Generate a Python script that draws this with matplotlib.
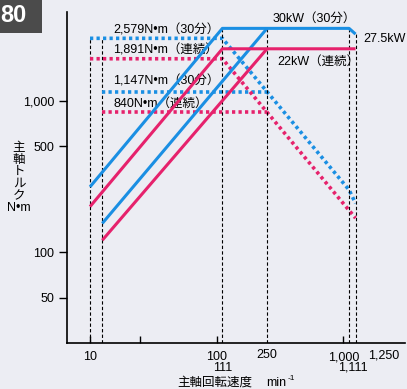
import matplotlib
matplotlib.use('Agg')
import matplotlib.pyplot as plt
from matplotlib.patches import Rectangle
from matplotlib.transforms import blended_transform_factory

plt.rcParams['font.family'] = ['Liberation Sans', 'Noto Sans CJK JP', 'DejaVu Sans']

BLUE = '#1a8fe3'
PINK = '#e6226c'
BG = '#ecedf3'

# torque curves (N·m) vs spindle speed (min^-1)
lo30_speed = [10, 111, 1111, 1250]
lo30_torque = [2579, 2579, 258, 210]
locont_speed = [10, 111, 1111, 1250]
locont_torque = [1891, 1891, 189, 168]
hi30_speed = [12.5, 250]
hi30_torque = [1147, 1147]
hicont_speed = [12.5, 250]
hicont_torque = [840, 840]

# power curves (kW)
lo30p_speed = [10, 111, 1111, 1250]
lo30p_kw = [2.7, 30, 30, 27.5]
hi30p_speed = [12.5, 250]
hi30p_kw = [1.55, 30]
locontp_speed = [10, 111, 1250]
locontp_kw = [2.0, 22, 22]
hicontp_speed = [12.5, 250]
hicontp_kw = [1.2, 22]

# dashed guides
guide_torque_speed = [10, 12.5]
guide_torque_top = [2579, 2579]
guide_power_speed = [111, 250, 1111, 1250]
guide_power_top = [30, 30, 30, 27.5]

yticks = [50, 100, 500, 1000]
ytick_labels = ['50', '100', '500', '1,000']
xticks = [10, 25, 100, 1000]
xtick_labels = ['10', '', '100', '1,000']

fig = plt.figure(figsize=(4.07, 3.89), dpi=100)
fig.patch.set_facecolor(BG)
ax = fig.add_axes([0.1646, 0.1183, 0.8304, 0.8508])
ax.set_facecolor(BG)
ax.set_xscale('log')
ax.set_yscale('log')
ax.set_xlim(6.58, 3070)
ax.set_ylim(25.2, 3846)

ax2 = ax.twinx()
ax2.set_yscale('log')
ax2.set_ylim(0.252, 38.46)
ax2.axis('off')

for s in ['top', 'right']:
    ax.spines[s].set_visible(False)
ax.spines['left'].set_linewidth(1.2)
ax.spines['bottom'].set_linewidth(1.2)

dot = (0, (0.9, 0.9))
dash = dict(color='black', lw=0.8, linestyle=(0, (3, 2)))

for x, top in zip(guide_torque_speed, guide_torque_top):
    ax.plot([x, x], [25.2, top], **dash, zorder=1)
for x, top in zip(guide_power_speed, guide_power_top):
    ax2.plot([x, x], [0.252, top], **dash, zorder=1)

ax.plot(lo30_speed, lo30_torque, color=BLUE, lw=2.6, linestyle=dot, zorder=3)
ax.plot(hi30_speed, hi30_torque, color=BLUE, lw=2.6, linestyle=dot, zorder=3)
ax.plot(locont_speed, locont_torque, color=PINK, lw=2.6, linestyle=dot, zorder=3)
ax.plot(hicont_speed, hicont_torque, color=PINK, lw=2.6, linestyle=dot, zorder=3)

ax2.plot(lo30p_speed, lo30p_kw, color=BLUE, lw=2.2, solid_capstyle='butt', zorder=4)
ax2.plot(hi30p_speed, hi30p_kw, color=BLUE, lw=2.2, solid_capstyle='butt', zorder=4)
ax2.plot(locontp_speed, locontp_kw, color=PINK, lw=2.2, solid_capstyle='butt', zorder=4)
ax2.plot(hicontp_speed, hicontp_kw, color=PINK, lw=2.2, solid_capstyle='butt', zorder=4)

ax.set_yticks(yticks)
ax.set_yticklabels(ytick_labels)
ax.yaxis.set_minor_locator(plt.NullLocator())
ax.tick_params(axis='y', direction='out', length=6, width=1, labelsize=9, pad=3)
ax.set_xticks(xticks)
ax.set_xticklabels(xtick_labels)
ax.xaxis.set_minor_locator(plt.NullLocator())
ax.tick_params(axis='x', direction='in', length=5, width=1, labelsize=9, pad=6)

tr = blended_transform_factory(ax.transData, fig.transFigure)
ax.text(250, 1 - 355 / 389, '250', transform=tr, ha='center', va='center', fontsize=9)
ax.text(2070, 1 - 355 / 389, '1,250', transform=tr, ha='center', va='center', fontsize=9)
ax.text(111, 1 - 368 / 389, '111', transform=tr, ha='center', va='center', fontsize=9)
ax.text(1111 * 1.08, 1 - 368 / 389, '1,111', transform=tr, ha='center', va='center', fontsize=9)

fs = 9
ax.text(15.2, 2900, '2,579N•m（30分）', fontsize=fs, va='center')
ax.text(15.2, 2140, '1,891N•m（連続）', fontsize=fs, va='center')
ax.text(15.2, 1350, '1,147N•m（30分）', fontsize=fs, va='center')
ax.text(15.2, 955, '840N•m（連続）', fontsize=fs, va='center')
ax.text(278, 3480, '30kW（30分）', fontsize=fs, va='center')
ax.text(1430, 2560, '27.5kW', fontsize=fs, va='center')
ax.text(299, 1810, '22kW（連続）', fontsize=fs, va='center')

fig.text(19 / 407, 1 - 178 / 389, '主\n軸\nト\nル\nク\nN•m', ha='center', va='center',
         fontsize=9, linespacing=1.0)
fig.text(177 / 407, 1 - 383 / 389, '主軸回転速度', ha='left', va='center', fontsize=9)
fig.text(266 / 407, 1 - 383 / 389, 'min', ha='left', va='center', fontsize=9)
fig.text(288 / 407, 1 - 378 / 389, '-1', ha='left', va='center', fontsize=6)

fig.patches.append(Rectangle((0, 1 - 33 / 389), 42 / 407, 33 / 389, transform=fig.transFigure,
                             facecolor='#4b4b4b', edgecolor='none'))
fig.text(27 / 407, 1 - 16 / 389, '80', ha='right', va='center', color='white',
         fontsize=17, fontweight='bold')

fig.savefig('out.png', dpi=100, facecolor=BG)
